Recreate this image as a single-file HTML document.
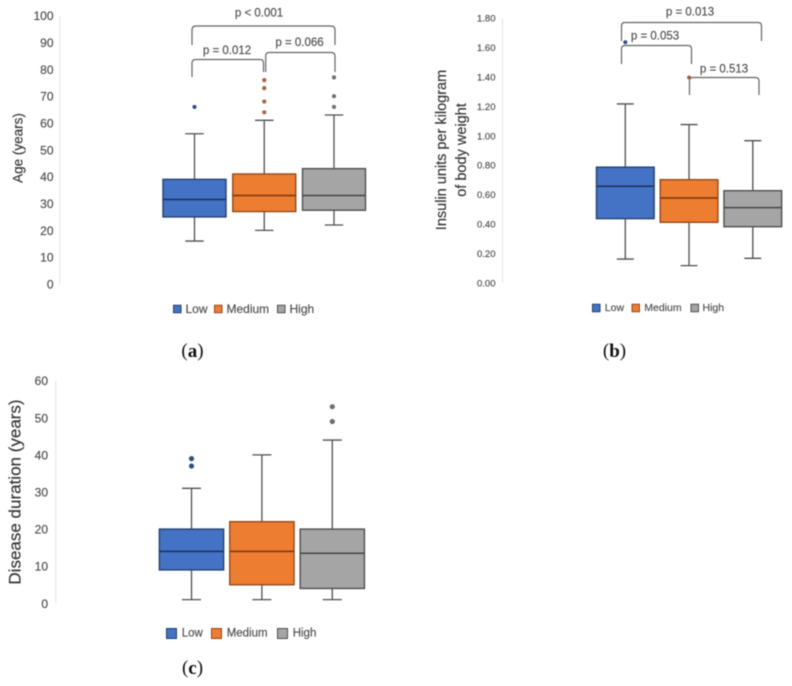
<!DOCTYPE html>
<html lang="en">
<head>
<meta charset="utf-8">
<title>Box plots by group</title>
<style>
  html, body { margin: 0; padding: 0; background: #fff; }
  body { width: 792px; height: 686px; overflow: hidden; }
  svg { display: block; filter: blur(0.4px); }
  text { font-family: "Liberation Sans", sans-serif; fill: #4d4d4d; stroke: #4d4d4d; stroke-width: 0.15px; }
  .tick { text-anchor: end; dominant-baseline: central; }
  .title { text-anchor: middle; dominant-baseline: central; fill: #333; stroke: #333; }
  .pval { font-size: 11.5px; text-anchor: middle; dominant-baseline: central; }
  .bracket { fill: none; stroke: #636363; stroke-width: 1.2; }
  .panel-label { font-family: "Liberation Serif", serif; font-size: 19px; text-anchor: middle; dominant-baseline: central; fill: #111; stroke: none; }
</style>
</head>
<body>
<svg id="fig" width="792" height="686" viewBox="0 0 792 686" xmlns="http://www.w3.org/2000/svg">
  <rect width="792" height="686" fill="#fff"/>

  <text class="title" font-size="13.5" transform="translate(18 148) rotate(-90)">Age  (years)</text>
  <text class="title" font-size="14.5" transform="translate(442 150) rotate(-90)">Insulin units per kilogram</text>
  <text class="title" font-size="14.5" transform="translate(462 150) rotate(-90)">of body weight</text>
  <text class="title" font-size="17" transform="translate(15 492) rotate(-90)">Disease duration (years)</text>

  <path class="bracket" d="M192 45V30Q192 26 196 26H331Q335 26 335 30V45"/>
  <text class="pval" x="259" y="13.5">p &lt; 0.001</text>
  <path class="bracket" d="M192 77V63Q192 59.500 196 59.500H260Q263.500 59.500 263.500 63V72"/>
  <text class="pval" x="227" y="51">p = 0.012</text>
  <path class="bracket" d="M265.700 72V56Q265.700 52.500 269 52.500H331Q335 52.500 335 56V72"/>
  <text class="pval" x="299.500" y="43">p = 0.066</text>

  <path class="bracket" d="M621.500 41V26Q621.500 22.500 625 22.500H758Q761.500 22.500 761.500 26V41"/>
  <text class="pval" x="690" y="12.500">p = 0.013</text>
  <path class="bracket" d="M621.500 64V49Q621.500 45.500 625 45.500H688Q691.500 45.500 691.500 49V64"/>
  <text class="pval" x="655" y="36.500">p = 0.053</text>
  <path class="bracket" d="M689.500 95V81Q689.500 77.500 693 77.500H755Q759 77.500 759 81V95"/>
  <text class="pval" x="724" y="69.500">p = 0.513</text>

  <text class="panel-label" x="192.500" y="351">(<tspan font-weight="700" fill="#111">a</tspan>)</text>
  <text class="panel-label" x="614.500" y="351">(<tspan font-weight="700" fill="#111">b</tspan>)</text>
  <text class="panel-label" x="192.500" y="668">(<tspan font-weight="700" fill="#111">c</tspan>)</text>
</svg>

<script>
// Shared categories
var groups = ['Low', 'Medium', 'High'];

// Panel (a) Age
var ageTicks = [0, 10, 20, 30, 40, 50, 60, 70, 80, 90, 100];
var ageMin = [16, 20, 22];
var ageQ1 = [25, 27, 27.5];
var ageMedian = [31.5, 33, 33];
var ageQ3 = [39, 41, 43];
var ageMax = [56, 61, 63];
var ageOutliers = [[66], [64, 68, 73, 76], [66, 70, 77]];

// Panel (b) Insulin units per kilogram
var insulinTicks = [0, 0.2, 0.4, 0.6, 0.8, 1.0, 1.2, 1.4, 1.6, 1.8];
var insulinMin = [0.165, 0.12, 0.17];
var insulinQ1 = [0.44, 0.415, 0.385];
var insulinMedian = [0.66, 0.58, 0.515];
var insulinQ3 = [0.79, 0.705, 0.63];
var insulinMax = [1.22, 1.08, 0.97];
var insulinOutliers = [[1.64], [1.40], []];

// Panel (c) Disease duration
var durationTicks = [0, 10, 20, 30, 40, 50, 60];
var durationMin = [1, 1, 1];
var durationQ1 = [9, 5, 4];
var durationMedian = [14, 14, 13.5];
var durationQ3 = [20, 22, 20];
var durationMax = [31, 40, 44];
var durationOutliers = [[37, 39], [], [49, 53]];

var fills = ['#4472c4', '#ed7d31', '#a5a5a5'];
var edges = ['#25426f', '#96491a', '#4f4f4f'];
var medians = ['#1a2f55', '#7a360b', '#454545'];
var dots = ['#2f4f86', '#a8613f', '#6e6e6e'];

var svg = document.getElementById('fig');
var NS = 'http://www.w3.org/2000/svg';

function make(parent, tag, attrs) {
  var node = document.createElementNS(NS, tag);
  for (var k in attrs) node.setAttribute(k, attrs[k]);
  parent.appendChild(node);
  return node;
}

function linearScale(d0, d1, r0, r1) {
  return function (v) { return r0 + (v - d0) / (d1 - d0) * (r1 - r0); };
}

function drawPanel(p) {
  var g = make(svg, 'g', {});
  
  

  var ticks = p.ticks;
  var y = linearScale(ticks[0], ticks[ticks.length - 1], p.y0, p.y1);
  var x = linearScale(0, groups.length - 1, p.x0, p.x2);

  var axis = make(g, 'line', { x1: p.axisX, x2: p.axisX, y1: p.y1, y2: p.y0, stroke: '#e4e4e4', 'stroke-width': 1 });
  
  

  ticks.forEach(function (t) {
    var label = make(g, 'text', { 'class': 'tick', x: p.tickX, y: y(t) + 0.5, 'font-size': p.tickSize });
    label.textContent = t.toFixed(p.decimals);
    
    
  });

  groups.forEach(function (name, i) {
    var cx = x(i);
    var left = cx - p.boxW / 2;
    var right = cx + p.boxW / 2;
    var key = name.toLowerCase();

    var whisker = make(g, 'path', {
      d: 'M' + (cx - p.capW / 2) + ' ' + y(p.max[i]) + 'H' + (cx + p.capW / 2) +
         'M' + cx + ' ' + y(p.max[i]) + 'V' + y(p.min[i]) +
         'M' + (cx - p.capW / 2) + ' ' + y(p.min[i]) + 'H' + (cx + p.capW / 2),
      fill: 'none', stroke: '#4f4f4f', 'stroke-width': 1.3
    });
    
    

    var box = make(g, 'rect', {
      x: left, y: y(p.q3[i]), width: p.boxW, height: y(p.q1[i]) - y(p.q3[i]),
      fill: fills[i], stroke: edges[i], 'stroke-width': 1.4
    });
    
    

    var med = make(g, 'line', {
      x1: left, x2: right, y1: y(p.median[i]), y2: y(p.median[i]),
      stroke: medians[i], 'stroke-width': 1.5
    });
    
    

    p.outliers[i].forEach(function (v) {
      var dot = make(g, 'circle', { cx: cx, cy: y(v), r: p.dotR, fill: dots[i] });
      
      
    });

    var swatch = make(g, 'rect', {
      x: p.swatchX[i], y: p.legendY - p.swatchS / 2, width: p.swatchS, height: p.swatchS,
      fill: fills[i], stroke: edges[i], 'stroke-width': 1
    });
    
    

    var entry = make(g, 'text', { x: p.swatchX[i] + p.labelGap[i], y: p.legendY, 'font-size': p.legendSize, 'dominant-baseline': 'central' });
    entry.textContent = name;
    
    
  });
}

drawPanel({
  name: 'age', ticks: ageTicks, decimals: 0, min: ageMin, q1: ageQ1, median: ageMedian, q3: ageQ3, max: ageMax, outliers: ageOutliers,
  y0: 284, y1: 15.7, x0: 194.5, x2: 334, axisX: 59.7, tickX: 53.5, tickSize: 12,
  boxW: 63, capW: 18.5, dotR: 2.1,
  swatchX: [173.5, 214.5, 277.5], swatchS: 7.5, labelGap: [12, 12, 12], legendY: 309, legendSize: 12
});

drawPanel({
  name: 'insulin', ticks: insulinTicks, decimals: 2, min: insulinMin, q1: insulinQ1, median: insulinMedian, q3: insulinQ3, max: insulinMax, outliers: insulinOutliers,
  y0: 283.3, y1: 18.7, x0: 625.3, x2: 752.8, axisX: 502.5, tickX: 495.5, tickSize: 9.5,
  boxW: 57.7, capW: 17, dotR: 2,
  swatchX: [592.5, 632, 691], swatchS: 7.5, labelGap: [12.3, 12.3, 11.5], legendY: 308, legendSize: 10.5
});

drawPanel({
  name: 'duration', ticks: durationTicks, decimals: 0, min: durationMin, q1: durationQ1, median: durationMedian, q3: durationQ3, max: durationMax, outliers: durationOutliers,
  y0: 603.3, y1: 380.7, x0: 191.5, x2: 332.3, axisX: 55.7, tickX: 48, tickSize: 12,
  boxW: 64.3, capW: 19, dotR: 2.6,
  swatchX: [166.5, 211.5, 277.5], swatchS: 10, labelGap: [15.2, 15.2, 15.2], legendY: 633.5, legendSize: 11.5
});
</script>
</body>
</html>
